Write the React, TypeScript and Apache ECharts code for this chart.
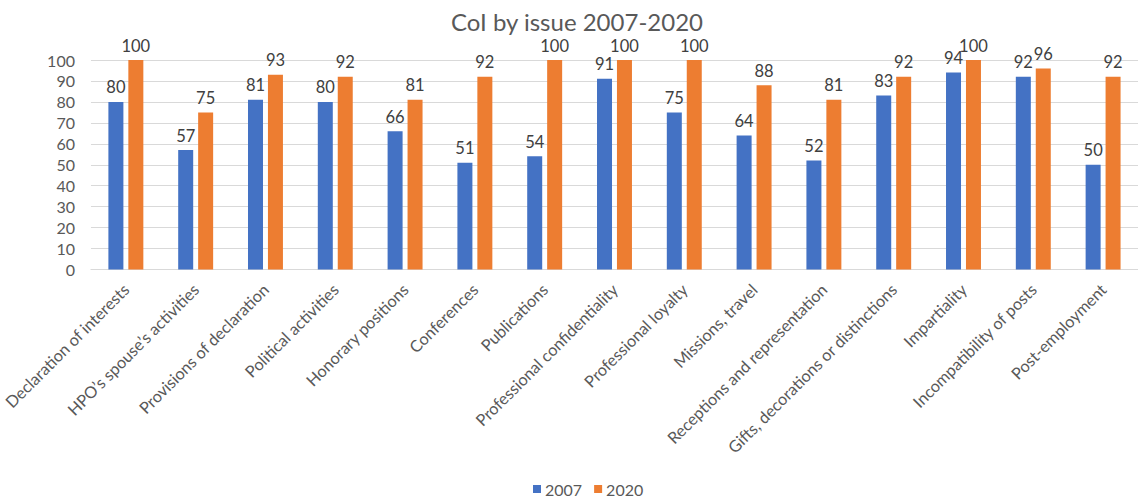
import React, { useEffect, useRef } from "react";
import * as echarts from "echarts";

const categories = [
  "Declaration of interests",
  "HPO’s spouse’s activities",
  "Provisions of declaration",
  "Political activities",
  "Honorary positions",
  "Conferences",
  "Publications",
  "Professional confidentiality",
  "Professional loyalty",
  "Missions, travel",
  "Receptions and representation",
  "Gifts, decorations or distinctions",
  "Impartiality",
  "Incompatibility of posts",
  "Post-employment",
];
const values2007 = [80, 57, 81, 80, 66, 51, 54, 91, 75, 64, 52, 83, 94, 92, 50];
const values2020 = [100, 75, 93, 92, 81, 92, 100, 100, 100, 88, 81, 92, 100, 96, 92];
const seriesNames = ["2007", "2020"];
const title = "CoI by issue 2007-2020";

const FONT = "Lato, 'Open Sans', sans-serif";
const TEXT = "#595959";

export default function App() {
  const ref = useRef<HTMLDivElement>(null);
  useEffect(() => {
    document.body.style.margin = "0";
    const chart = echarts.init(ref.current!, null, { renderer: "svg" });
    const labelStyle = {
      show: true,
      position: "top" as const,
      distance: 6,
      color: "#404040",
      fontSize: 16.5,
      fontFamily: FONT,
    };
    chart.setOption({
      animation: false,
      backgroundColor: "#ffffff",
      title: {
        text: title,
        left: 577,
        textAlign: "center",
        top: 9,
        padding: 0,
        textStyle: {
          color: TEXT,
          fontSize: 24,
          lineHeight: 24,
          fontWeight: "normal",
          fontFamily: FONT,
        },
      },
      legend: {
        data: seriesNames,
        bottom: 0,
        left: 528,
        itemWidth: 8,
        itemHeight: 8,
        itemGap: 12,
        icon: "rect",
        textStyle: { color: TEXT, fontSize: 16, fontFamily: FONT, padding: [0, 0, 0, -1] },
      },
      grid: { left: 89.5, top: 60, width: 1051, height: 209.5, containLabel: false },
      xAxis: {
        type: "category",
        data: categories,
        axisTick: { show: false },
        axisLine: { lineStyle: { color: "#d9d9d9" } },
        axisLabel: {
          rotate: 45,
          interval: 0,
          margin: 17,
          color: TEXT,
          fontSize: 16.3,
          fontFamily: FONT,
        },
      },
      yAxis: {
        type: "value",
        min: 0,
        max: 100,
        interval: 10,
        axisLine: { show: false },
        axisTick: { show: false },
        splitLine: { lineStyle: { color: "#d9d9d9" } },
        axisLabel: { color: TEXT, fontSize: 16, fontFamily: FONT, margin: 16 },
      },
      series: [
        {
          name: seriesNames[0],
          type: "bar",
          data: values2007,
          itemStyle: { color: "#4472C4" },
          barWidth: 15,
          barGap: "33%",
          label: labelStyle,
        },
        {
          name: seriesNames[1],
          type: "bar",
          data: values2020,
          itemStyle: { color: "#ED7D31" },
          barWidth: 15,
          label: labelStyle,
        },
      ],
    });
    return () => chart.dispose();
  }, []);
  return (
    <div
      ref={ref}
      style={{ position: "absolute", left: 0, top: 0, width: 1138, height: 502 }}
    />
  );
}
